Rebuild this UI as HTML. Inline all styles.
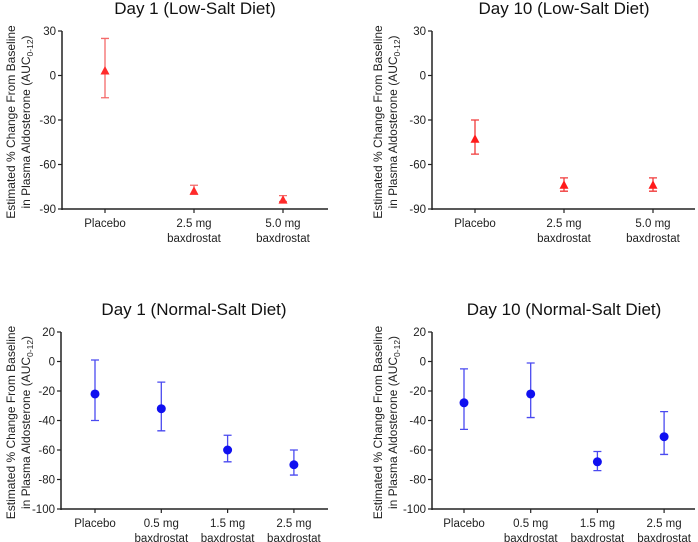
<!DOCTYPE html>
<html><head><meta charset="utf-8"><style>
html,body{margin:0;padding:0;background:#fff;}
svg{display:block;font-family:"Liberation Sans",Arial,sans-serif;}
</style></head><body>
<svg id="c" width="698" height="542" viewBox="0 0 698 542"></svg>
<script>
// ---- data ----
const lowCats = ["Placebo", "2.5 mg|baxdrostat", "5.0 mg|baxdrostat"];
const normCats = ["Placebo", "0.5 mg|baxdrostat", "1.5 mg|baxdrostat", "2.5 mg|baxdrostat"];
const lowTicks = [30, 0, -30, -60, -90];
const normTicks = [20, 0, -20, -40, -60, -80, -100];
const d1LowMean = [3, -78, -84];
const d1LowLo = [-15, -80, -85];
const d1LowHi = [25, -74, -81];
const d10LowMean = [-43, -74, -74];
const d10LowLo = [-53, -78, -78];
const d10LowHi = [-30, -69, -69];
const d1NormMean = [-22, -32, -60, -70];
const d1NormLo = [-40, -47, -68, -77];
const d1NormHi = [1, -14, -50, -60];
const d10NormMean = [-28, -22, -68, -51];
const d10NormLo = [-46, -38, -74, -63];
const d10NormHi = [-5, -1, -61, -34];

const svg = document.getElementById('c');
const NS = 'http://www.w3.org/2000/svg';
function mk(tag, attrs, parent) {
  const e = document.createElementNS(NS, tag);
  for (const k in attrs) e.setAttribute(k, attrs[k]);
  (parent || svg).appendChild(e);
  return e;
}

function panel(o) {
  const g = mk('g', {});
  
  
  const ymin = o.ticks[o.ticks.length - 1], ymax = o.ticks[0];
  const yS = v => o.yBot - (v - ymin) / (ymax - ymin) * (o.yBot - o.yTop);
  const xS = i => o.cx0 + i * o.dx;
  const t = mk('text', {x: o.titleX, y: o.titleY, 'font-size': 17, 'text-anchor': 'middle', fill: '#111'}, g);
  t.textContent = o.title;
  
  
  const yl = mk('text', {transform: `translate(${o.ylx},${(o.yTop + o.yBot) / 2 + 2}) rotate(-90)`, 'font-size': 12, 'text-anchor': 'middle', fill: '#222'}, g);
  
  
  const t1 = mk('tspan', {x: 0, dy: 0}, yl); t1.textContent = 'Estimated % Change From Baseline';
  const t2 = mk('tspan', {x: 0, dy: 15}, yl); t2.textContent = 'in Plasma Aldosterone (AUC';
  const t3 = mk('tspan', {'font-size': 8.5, dy: 3}, yl); t3.textContent = '0-12';
  const t4 = mk('tspan', {dy: -3}, yl); t4.textContent = ')';
  const ya = mk('line', {x1: o.ax, y1: o.yTop, x2: o.ax, y2: o.yBot + 1, stroke: '#222', 'stroke-width': 1.5}, g);
  
  
  const xa = mk('line', {x1: o.ax, y1: o.yBot, x2: o.axEnd, y2: o.yBot, stroke: '#222', 'stroke-width': 1.5}, g);
  
  
  o.ticks.forEach(v => {
    mk('line', {x1: o.ax - 4, y1: yS(v), x2: o.ax, y2: yS(v), stroke: '#222', 'stroke-width': 1.2}, g);
    const tl = mk('text', {x: o.ax - 6, y: yS(v) + 4, 'font-size': 11.5, 'text-anchor': 'end', fill: '#222'}, g);
    tl.textContent = v;
    
    
  });
  o.cats.forEach((c, i) => {
    mk('line', {x1: xS(i), y1: o.yBot, x2: xS(i), y2: o.yBot + 4, stroke: '#222', 'stroke-width': 1.2}, g);
    const parts = c.split('|');
    parts.forEach((p, j) => {
      const tl = mk('text', {x: xS(i), y: o.yBot + 18 + j * 15, 'font-size': 11.5, 'text-anchor': 'middle', fill: '#222'}, g);
      tl.textContent = p;
      
      
    });
  });
  o.mean.forEach((m, i) => {
    const x = xS(i);
    const eb = mk('path', {d: `M${x},${yS(o.lo[i])}V${yS(o.hi[i])}M${x - 4},${yS(o.lo[i])}H${x + 4}M${x - 4},${yS(o.hi[i])}H${x + 4}`, stroke: o.ecol, 'stroke-width': 1.3, fill: 'none'}, g);
    
    
    let mark;
    const y = yS(m);
    if (o.shape === 'tri') {
      mark = mk('path', {d: `M${x},${y - 5}L${x + 4.5},${y + 3.5}L${x - 4.5},${y + 3.5}Z`, fill: o.col}, g);
    } else {
      mark = mk('circle', {cx: x, cy: y, r: 4.5, fill: o.col}, g);
    }
    
    
  });
}

panel({name: 'panel-day1-low-salt', title: 'Day 1 (Low-Salt Diet)', titleX: 195, titleY: 14, ylx: 15,
  ax: 62, axEnd: 328, yTop: 31, yBot: 209, cx0: 105, dx: 89, ticks: lowTicks, cats: lowCats,
  mean: d1LowMean, lo: d1LowLo, hi: d1LowHi, shape: 'tri', col: '#ff2a2a', ecol: '#f46a6a'});
panel({name: 'panel-day10-low-salt', title: 'Day 10 (Low-Salt Diet)', titleX: 564, titleY: 14, ylx: 382,
  ax: 432, axEnd: 695, yTop: 31, yBot: 209, cx0: 475, dx: 89, ticks: lowTicks, cats: lowCats,
  mean: d10LowMean, lo: d10LowLo, hi: d10LowHi, shape: 'tri', col: '#ff1a1a', ecol: '#f03a3a'});
panel({name: 'panel-day1-normal-salt', title: 'Day 1 (Normal-Salt Diet)', titleX: 194, titleY: 315, ylx: 15,
  ax: 61, axEnd: 328, yTop: 332, yBot: 509, cx0: 95, dx: 66.3, ticks: normTicks, cats: normCats,
  mean: d1NormMean, lo: d1NormLo, hi: d1NormHi, shape: 'dot', col: '#1010f0', ecol: '#4a4af0'});
panel({name: 'panel-day10-normal-salt', title: 'Day 10 (Normal-Salt Diet)', titleX: 564, titleY: 315, ylx: 382,
  ax: 432, axEnd: 695, yTop: 332, yBot: 509, cx0: 464, dx: 66.7, ticks: normTicks, cats: normCats,
  mean: d10NormMean, lo: d10NormLo, hi: d10NormHi, shape: 'dot', col: '#1010f0', ecol: '#4a4af0'});
</script>
</body></html>
